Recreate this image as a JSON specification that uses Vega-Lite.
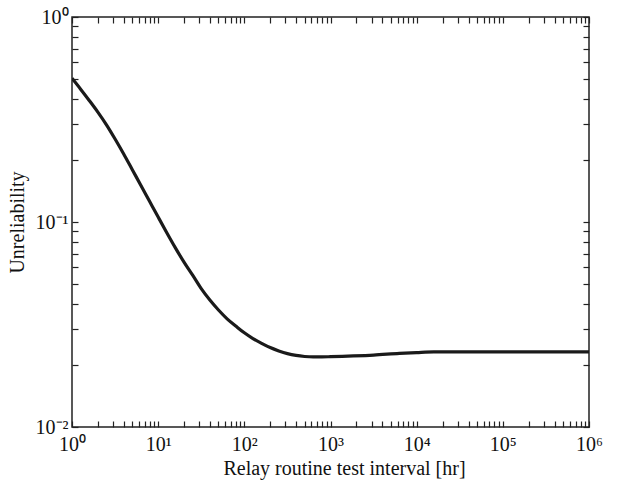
{
  "$schema": "https://vega.github.io/schema/vega-lite/v6.json",
  "autosize": "none",
  "width": 517,
  "height": 410,
  "padding": {"left": 72, "top": 17, "right": 29, "bottom": 63},
  "background": "white",
  "config": {
    "view": {"stroke": "#222", "strokeWidth": 1.5},
    "font": "Liberation Serif",
    "axis": {
      "grid": false,
      "ticks": true,
      "domain": false,
      "offset": -6,
      "tickColor": "#222",
      "tickWidth": 1.2,
      "labelFont": "Liberation Serif",
      "labelFontSize": 20,
      "labelColor": "#111",
      "titleFont": "Liberation Serif",
      "titleFontSize": 20,
      "titleFontWeight": "normal",
      "titleColor": "#111"
    }
  },
  "data": {
    "values": [
      {"t": 1, "u": 0.5023},
      {"t": 1.259, "u": 0.4446},
      {"t": 1.585, "u": 0.3917},
      {"t": 1.995, "u": 0.3436},
      {"t": 2.512, "u": 0.2979},
      {"t": 3.162, "u": 0.2541},
      {"t": 3.981, "u": 0.2148},
      {"t": 5.012, "u": 0.1799},
      {"t": 6.31, "u": 0.1507},
      {"t": 7.943, "u": 0.1262},
      {"t": 10, "u": 0.1057},
      {"t": 12.59, "u": 0.0887},
      {"t": 15.85, "u": 0.0748},
      {"t": 19.95, "u": 0.0637},
      {"t": 25.12, "u": 0.055},
      {"t": 31.62, "u": 0.0473},
      {"t": 39.81, "u": 0.0416},
      {"t": 50.12, "u": 0.0372},
      {"t": 63.1, "u": 0.0337},
      {"t": 79.43, "u": 0.0311},
      {"t": 100, "u": 0.0288},
      {"t": 125.9, "u": 0.027},
      {"t": 158.5, "u": 0.0256},
      {"t": 199.5, "u": 0.0244},
      {"t": 251.2, "u": 0.0235},
      {"t": 316.2, "u": 0.0228},
      {"t": 398.1, "u": 0.02234},
      {"t": 501.2, "u": 0.02208},
      {"t": 631, "u": 0.02198},
      {"t": 794.3, "u": 0.02198},
      {"t": 1000, "u": 0.02203},
      {"t": 1585, "u": 0.02218},
      {"t": 3162, "u": 0.02244},
      {"t": 6310, "u": 0.02286},
      {"t": 10000, "u": 0.02307},
      {"t": 15849, "u": 0.02323},
      {"t": 31623, "u": 0.02323},
      {"t": 100000, "u": 0.02323},
      {"t": 1000000, "u": 0.02323}
    ]
  },
  "layer": [
    {
      "mark": {"type": "line", "color": "#1a1a1a", "strokeWidth": 3.2, "interpolate": "monotone", "clip": true},
      "encoding": {
        "x": {
          "field": "t", "type": "quantitative",
          "scale": {"type": "log", "domain": [1, 1000000], "nice": false},
          "axis": {
            "orient": "bottom",
            "title": "Relay routine test interval [hr]",
            "titlePadding": 4,
            "titleX": 272,
            "values": [1,2,3,4,5,6,7,8,9,10,20,30,40,50,60,70,80,90,100,200,300,400,500,600,700,800,900,1000,2000,3000,4000,5000,6000,7000,8000,9000,10000,20000,30000,40000,50000,60000,70000,80000,90000,100000,200000,300000,400000,500000,600000,700000,800000,900000,1000000],
            "labelExpr": "datum.value==1?'10⁰':datum.value==10?'10¹':datum.value==100?'10²':datum.value==1000?'10³':datum.value==10000?'10⁴':datum.value==100000?'10⁵':datum.value==1000000?'10⁶':''",
            "tickSize": 6,
            "tickOpacity": 1,
            "labelPadding": 7,
            "labelFlush": false,
            "labelOverlap": false
          }
        },
        "y": {
          "field": "u", "type": "quantitative",
          "scale": {"type": "log", "domain": [0.01, 1], "nice": false},
          "axis": {
            "orient": "left",
            "title": "Unreliability",
            "titlePadding": 8,
            "values": [0.01,0.02,0.03,0.04,0.05,0.06,0.07,0.08,0.09,0.1,0.2,0.3,0.4,0.5,0.6,0.7,0.8,0.9,1],
            "labelExpr": "datum.value==0.01?'10⁻²':datum.value==0.1?'10⁻¹':datum.value==1?'10⁰':''",
            "tickSize": 6,
            "labelPadding": 4,
            "labelFlush": false,
            "labelOverlap": false
          }
        }
      }
    },
    {
      "mark": {"type": "line", "opacity": 0},
      "encoding": {
        "x": {
          "field": "t", "type": "quantitative",
          "axis": {
            "orient": "top", "title": null, "labels": false,
            "tickSize": 6,
            "values": [1,2,3,4,5,6,7,8,9,10,20,30,40,50,60,70,80,90,100,200,300,400,500,600,700,800,900,1000,2000,3000,4000,5000,6000,7000,8000,9000,10000,20000,30000,40000,50000,60000,70000,80000,90000,100000,200000,300000,400000,500000,600000,700000,800000,900000,1000000]
          }
        },
        "y": {
          "field": "u", "type": "quantitative",
          "axis": {
            "orient": "right", "title": null, "labels": false,
            "tickSize": 6,
            "values": [0.01,0.02,0.03,0.04,0.05,0.06,0.07,0.08,0.09,0.1,0.2,0.3,0.4,0.5,0.6,0.7,0.8,0.9,1]
          }
        }
      }
    }
  ],
  "resolve": {"axis": {"x": "independent", "y": "independent"}}
}
